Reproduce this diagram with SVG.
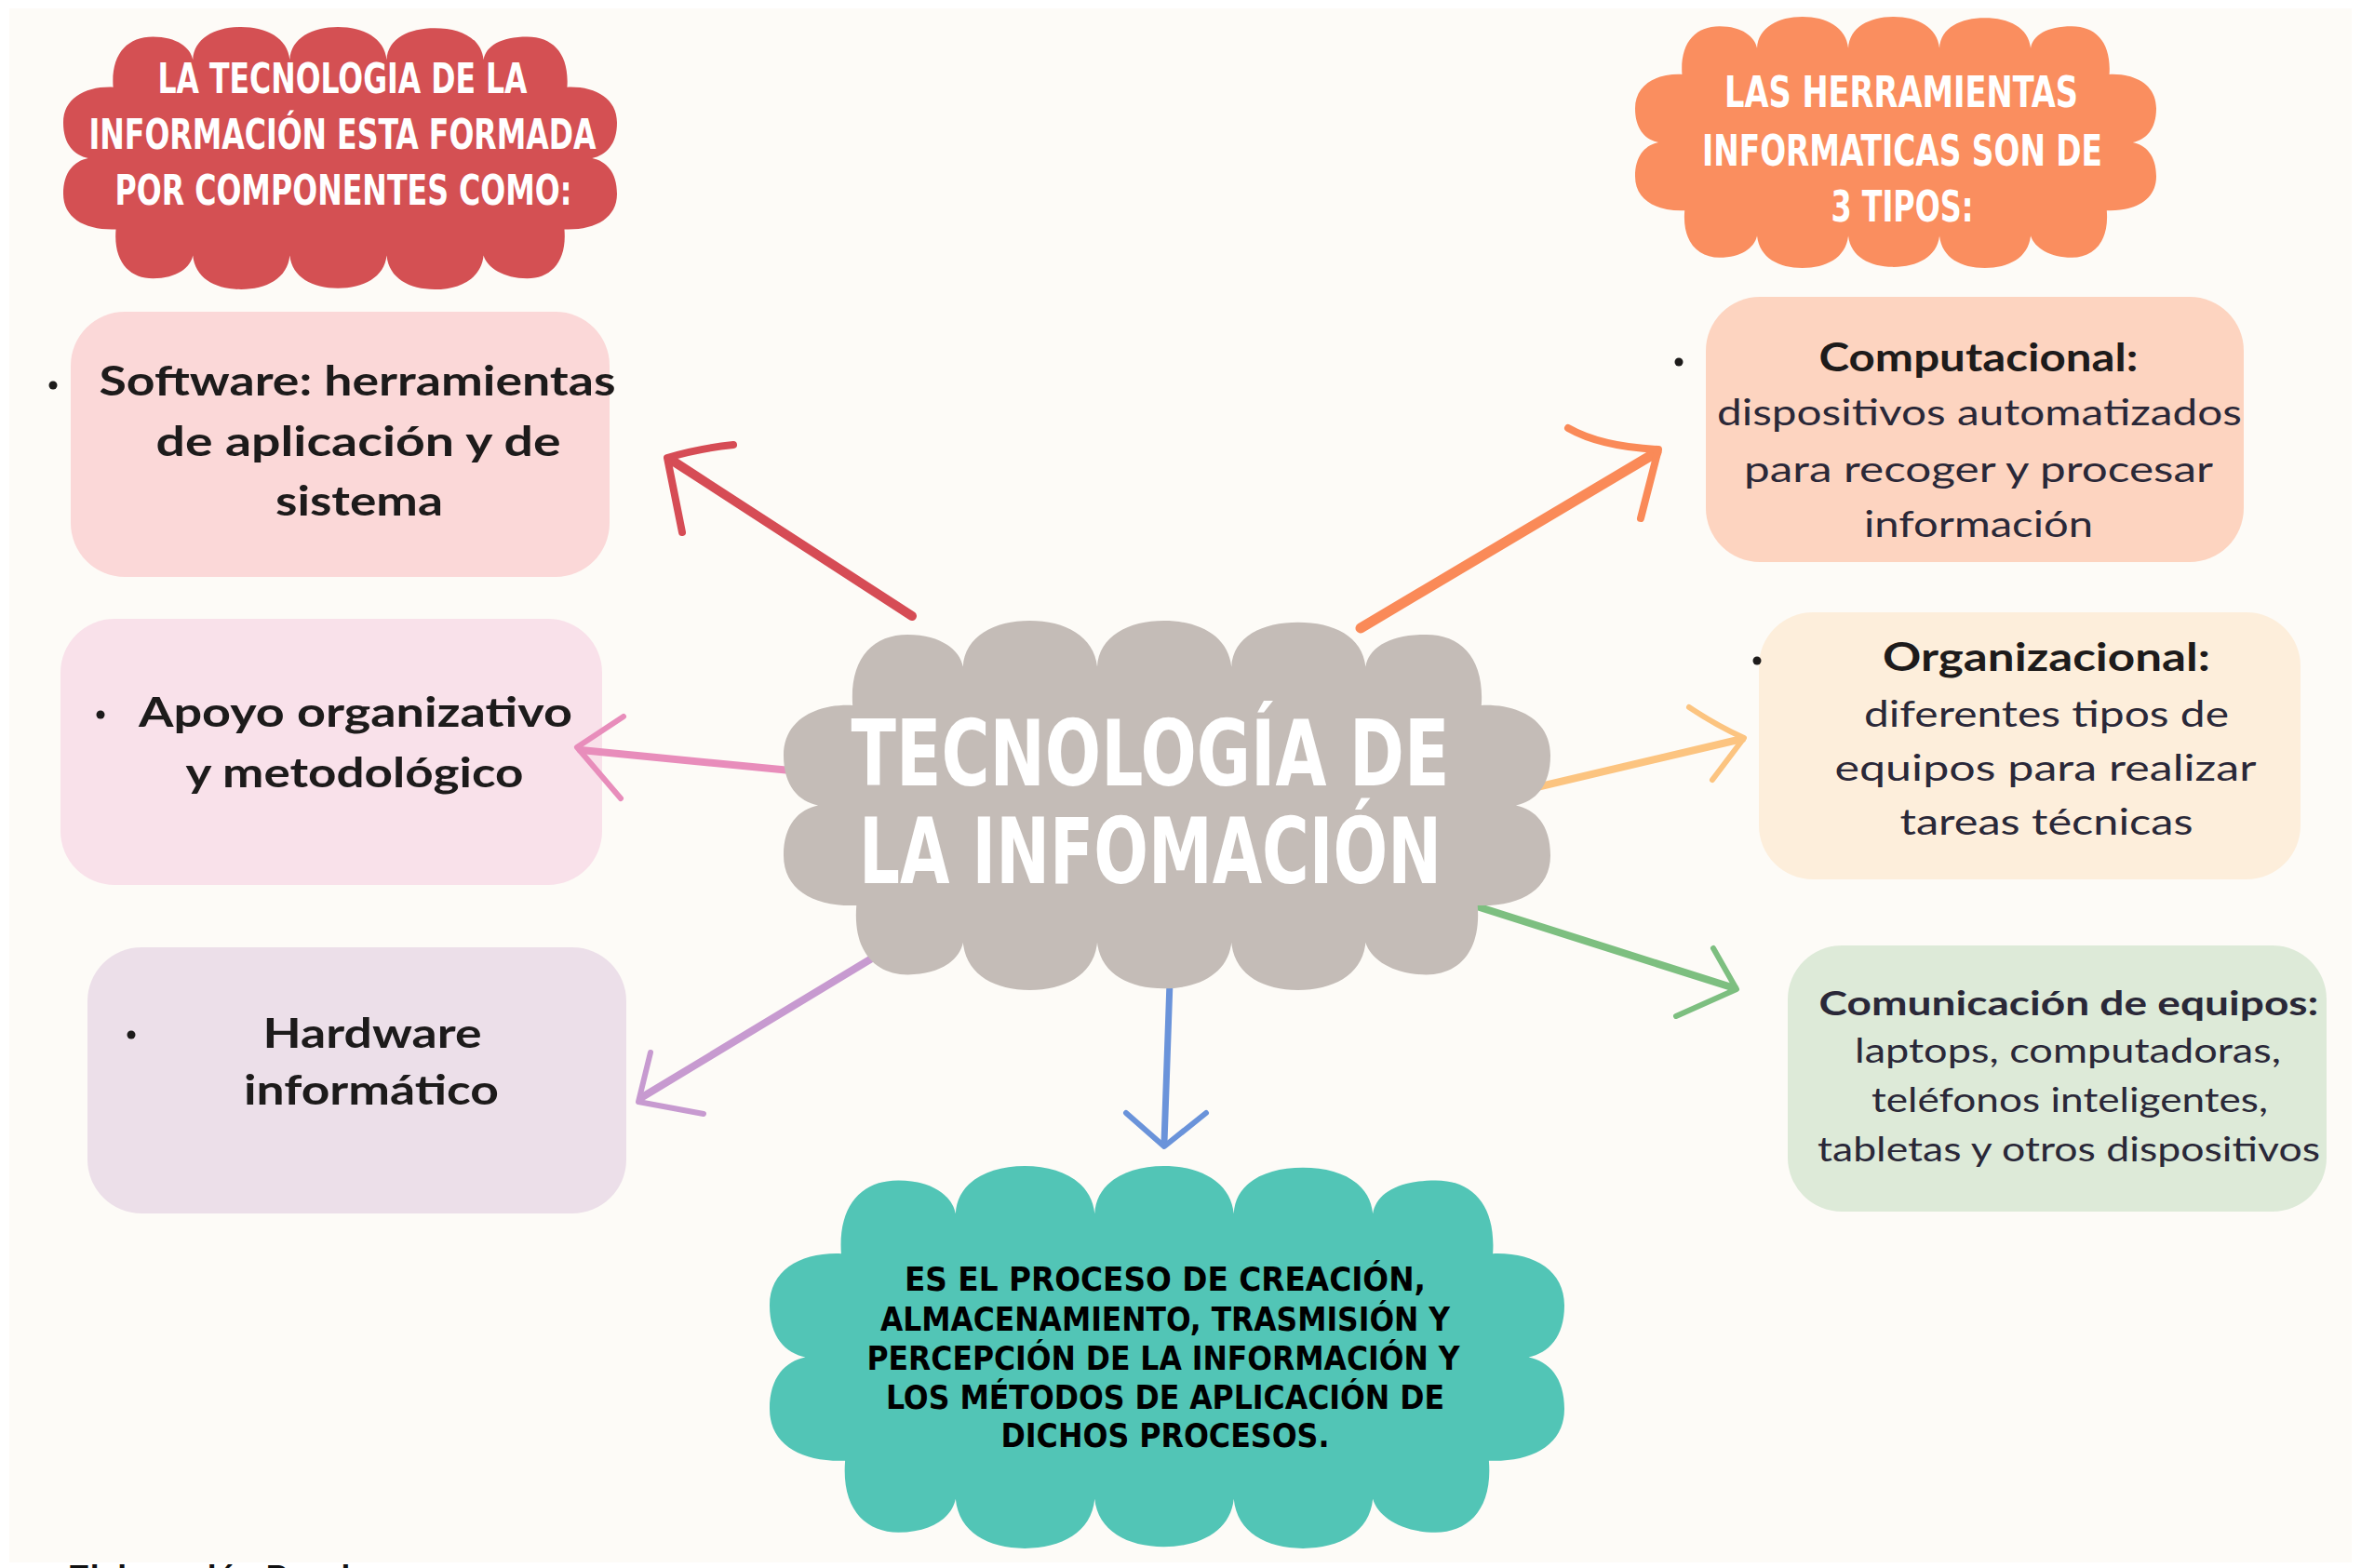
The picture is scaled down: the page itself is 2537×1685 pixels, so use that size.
<svg xmlns="http://www.w3.org/2000/svg" xmlns:xlink="http://www.w3.org/1999/xlink" width="2537" height="1685" viewBox="0 0 2537 1685">
<defs>
<style>
.ct{font-family:"Liberation Sans Narrow","DejaVu Sans Condensed","Liberation Sans",sans-serif;font-weight:700;text-anchor:middle}
.bt{font-family:Lato,"Liberation Sans",sans-serif;text-anchor:middle;fill:#1d1b1b}
.b1{font-weight:700;font-size:44px}
.hd{font-weight:700;font-size:42px}
.ds{font-weight:400;font-size:38px;fill:#2a2838}
.cm{font-weight:400;font-size:36px;fill:#2a2838}
.arr{fill:none;stroke-linecap:round;stroke-linejoin:round}
</style>
<path id="cloud" d="M90,110 C86,50 115,18 162,18 C205,18 230,38 234,60 C236,20 275,0 321,0 C367,0 405,20 409,60 C411,20 450,0 496,0 C542,0 580,20 584,60 C586,20 625,2 671,2 C717,2 755,20 759,60 C763,35 790,18 838,18 C885,18 914,50 910,110 C960,108 1000,130 1000,175 C1000,215 980,235 955,240 C980,245 1000,265 1000,305 C1000,350 960,372 905,370 C910,430 880,460 838,460 C795,460 765,440 759,418 C755,460 717,480 671,480 C625,480 588,460 584,418 C580,458 542,478 496,478 C450,478 413,458 409,418 C405,460 367,480 321,480 C275,480 238,460 234,418 C230,440 205,460 162,460 C120,460 90,430 95,370 C40,372 0,350 0,305 C0,265 20,245 45,240 C20,235 0,215 0,175 C0,130 40,108 90,110 Z"/>
</defs>
<rect x="0" y="0" width="2537" height="1685" fill="#ffffff"/>
<rect x="10" y="9" width="2517" height="1670" fill="#fdfbf7"/>

<g id="cloud-componentes">
<use xlink:href="#cloud" href="#cloud" fill="#d45053" transform="translate(68,29) scale(0.595,0.5875)"/>
<text class="ct" fill="#ffffff" font-size="44" x="368" y="100" textLength="397" lengthAdjust="spacingAndGlyphs">LA TECNOLOGIA DE LA</text>
<text class="ct" fill="#ffffff" font-size="44" x="368" y="160" textLength="545" lengthAdjust="spacingAndGlyphs">INFORMACIÓN ESTA FORMADA</text>
<text class="ct" fill="#ffffff" font-size="44" x="369" y="220" textLength="491" lengthAdjust="spacingAndGlyphs">POR COMPONENTES COMO:</text>
</g>

<g id="cloud-herramientas">
<use xlink:href="#cloud" href="#cloud" fill="#fa8e5f" transform="translate(1757,18) scale(0.56,0.5625)"/>
<text class="ct" fill="#ffffff" font-size="46" x="2043" y="115" textLength="380" lengthAdjust="spacingAndGlyphs">LAS HERRAMIENTAS</text>
<text class="ct" fill="#ffffff" font-size="46" x="2044" y="178" textLength="430" lengthAdjust="spacingAndGlyphs">INFORMATICAS SON DE</text>
<text class="ct" fill="#ffffff" font-size="46" x="2044" y="238" textLength="153" lengthAdjust="spacingAndGlyphs">3 TIPOS:</text>
</g>

<g id="node-software">
<rect x="76" y="335" width="579" height="285" rx="58" fill="#fbd8d8"/>
<circle cx="57" cy="414" r="4.5" fill="#1d1b1b"/>
<text class="bt b1" x="384" y="425" textLength="555" lengthAdjust="spacingAndGlyphs">Software: herramientas</text>
<text class="bt b1" x="385" y="490" textLength="435" lengthAdjust="spacingAndGlyphs">de aplicación y de</text>
<text class="bt b1" x="386" y="554" textLength="180" lengthAdjust="spacingAndGlyphs">sistema</text>
</g>

<g id="node-apoyo">
<rect x="65" y="665" width="582" height="286" rx="58" fill="#f9e1ea"/>
<circle cx="108" cy="768" r="4.5" fill="#1d1b1b"/>
<text class="bt b1" x="382" y="781" textLength="466" lengthAdjust="spacingAndGlyphs">Apoyo organizativo</text>
<text class="bt b1" x="381" y="846" textLength="363" lengthAdjust="spacingAndGlyphs">y metodológico</text>
</g>

<g id="node-hardware">
<rect x="94" y="1018" width="579" height="286" rx="58" fill="#ecdfe9"/>
<circle cx="141" cy="1112" r="4.5" fill="#1d1b1b"/>
<text class="bt b1" x="400" y="1126" textLength="235" lengthAdjust="spacingAndGlyphs">Hardware</text>
<text class="bt b1" x="399" y="1187" textLength="274" lengthAdjust="spacingAndGlyphs">informático</text>
</g>

<g id="node-computacional">
<rect x="1833" y="319" width="578" height="285" rx="58" fill="#fdd4c0"/>
<circle cx="1804" cy="389" r="4.5" fill="#1d1b1b"/>
<text class="bt hd" x="2126" y="399" textLength="343" lengthAdjust="spacingAndGlyphs">Computacional:</text>
<text class="bt ds" x="2127" y="457" textLength="564" lengthAdjust="spacingAndGlyphs">dispositivos automatizados</text>
<text class="bt ds" x="2126" y="518" textLength="504" lengthAdjust="spacingAndGlyphs">para recoger y procesar</text>
<text class="bt ds" x="2126" y="577" textLength="246" lengthAdjust="spacingAndGlyphs">información</text>
</g>

<g id="node-organizacional">
<rect x="1890" y="658" width="582" height="287" rx="58" fill="#fdeedb"/>
<circle cx="1888" cy="710" r="4.5" fill="#1d1b1b"/>
<text class="bt hd" x="2199" y="721" textLength="352" lengthAdjust="spacingAndGlyphs">Organizacional:</text>
<text class="bt ds" x="2199" y="781" textLength="392" lengthAdjust="spacingAndGlyphs">diferentes tipos de</text>
<text class="bt ds" x="2198" y="839" textLength="453" lengthAdjust="spacingAndGlyphs">equipos para realizar</text>
<text class="bt ds" x="2199" y="897" textLength="315" lengthAdjust="spacingAndGlyphs">tareas técnicas</text>
</g>

<g id="node-comunicacion">
<rect x="1921" y="1016" width="579" height="286" rx="58" fill="#ddead8"/>
<text class="bt cm" x="2223" y="1091" textLength="537" lengthAdjust="spacingAndGlyphs" style="font-weight:700">Comunicación de equipos:</text>
<text class="bt cm" x="2222" y="1142" textLength="458" lengthAdjust="spacingAndGlyphs">laptops, computadoras,</text>
<text class="bt cm" x="2224" y="1195" textLength="426" lengthAdjust="spacingAndGlyphs">teléfonos inteligentes,</text>
<text class="bt cm" x="2223" y="1248" textLength="540" lengthAdjust="spacingAndGlyphs">tabletas y otros dispositivos</text>
</g>

<g id="connectors">
<g stroke="#d64c55">
<path class="arr" stroke-width="10" d="M980,662 L721,494"/>
<path class="arr" stroke-width="8" d="M788,478 Q750,482 717,492 L733,572"/>
</g>
<g stroke="#fa8a58">
<path class="arr" stroke-width="11" d="M1462,675 L1780,486"/>
<path class="arr" stroke-width="8" d="M1685,460 Q1720,480 1782,483 L1763,557"/>
</g>
<g stroke="#e88dbb">
<path class="arr" stroke-width="8" d="M860,829 L624,806"/>
<path class="arr" stroke-width="6" d="M670,770 L620,803 L667,858"/>
</g>
<g stroke="#fcc480">
<path class="arr" stroke-width="8" d="M1630,851 L1872,794"/>
<path class="arr" stroke-width="6" d="M1815,760 Q1845,780 1874,793 L1840,838"/>
</g>
<g stroke="#7dbf80">
<path class="arr" stroke-width="8" d="M1590,975 L1864,1062"/>
<path class="arr" stroke-width="6" d="M1841,1019 L1866,1063 L1801,1092"/>
</g>
<g stroke="#c79ad0">
<path class="arr" stroke-width="8" d="M945,1025 L690,1179"/>
<path class="arr" stroke-width="6" d="M699,1131 L686,1184 L756,1197"/>
</g>
<g stroke="#6a93da">
<path class="arr" stroke-width="7" d="M1257,1055 L1251,1228"/>
<path class="arr" stroke-width="6" d="M1210,1196 L1251,1232 L1296,1196"/>
</g>
</g>

<g id="node-central">
<use xlink:href="#cloud" href="#cloud" fill="#c4bcb7" transform="translate(842,667) scale(0.824,0.827)"/>
<text class="ct" fill="#ffffff" font-size="98" x="1236" y="844" textLength="643" lengthAdjust="spacingAndGlyphs">TECNOLOGÍA DE</text>
<text class="ct" fill="#ffffff" font-size="98" x="1236" y="949" textLength="626" lengthAdjust="spacingAndGlyphs">LA INFOMACIÓN</text>
</g>

<g id="node-definicion">
<use xlink:href="#cloud" href="#cloud" fill="#52c5b6" transform="translate(827,1253) scale(0.854,0.856)"/>
<text class="ct" fill="#000000" font-size="36" x="1252" y="1387" textLength="560" lengthAdjust="spacingAndGlyphs">ES EL PROCESO DE CREACIÓN,</text>
<text class="ct" fill="#000000" font-size="36" x="1252" y="1430" textLength="612" lengthAdjust="spacingAndGlyphs">ALMACENAMIENTO, TRASMISIÓN Y</text>
<text class="ct" fill="#000000" font-size="36" x="1250" y="1472" textLength="637" lengthAdjust="spacingAndGlyphs">PERCEPCIÓN DE LA INFORMACIÓN Y</text>
<text class="ct" fill="#000000" font-size="36" x="1252" y="1514" textLength="600" lengthAdjust="spacingAndGlyphs">LOS MÉTODOS DE APLICACIÓN DE</text>
<text class="ct" fill="#000000" font-size="36" x="1252" y="1555" textLength="353" lengthAdjust="spacingAndGlyphs">DICHOS PROCESOS.</text>
</g>

<text x="73" y="1713" font-family="Liberation Sans, sans-serif" font-weight="700" font-size="44" fill="#111111" textLength="323" lengthAdjust="spacingAndGlyphs">Elaboración Propia</text>
</svg>
